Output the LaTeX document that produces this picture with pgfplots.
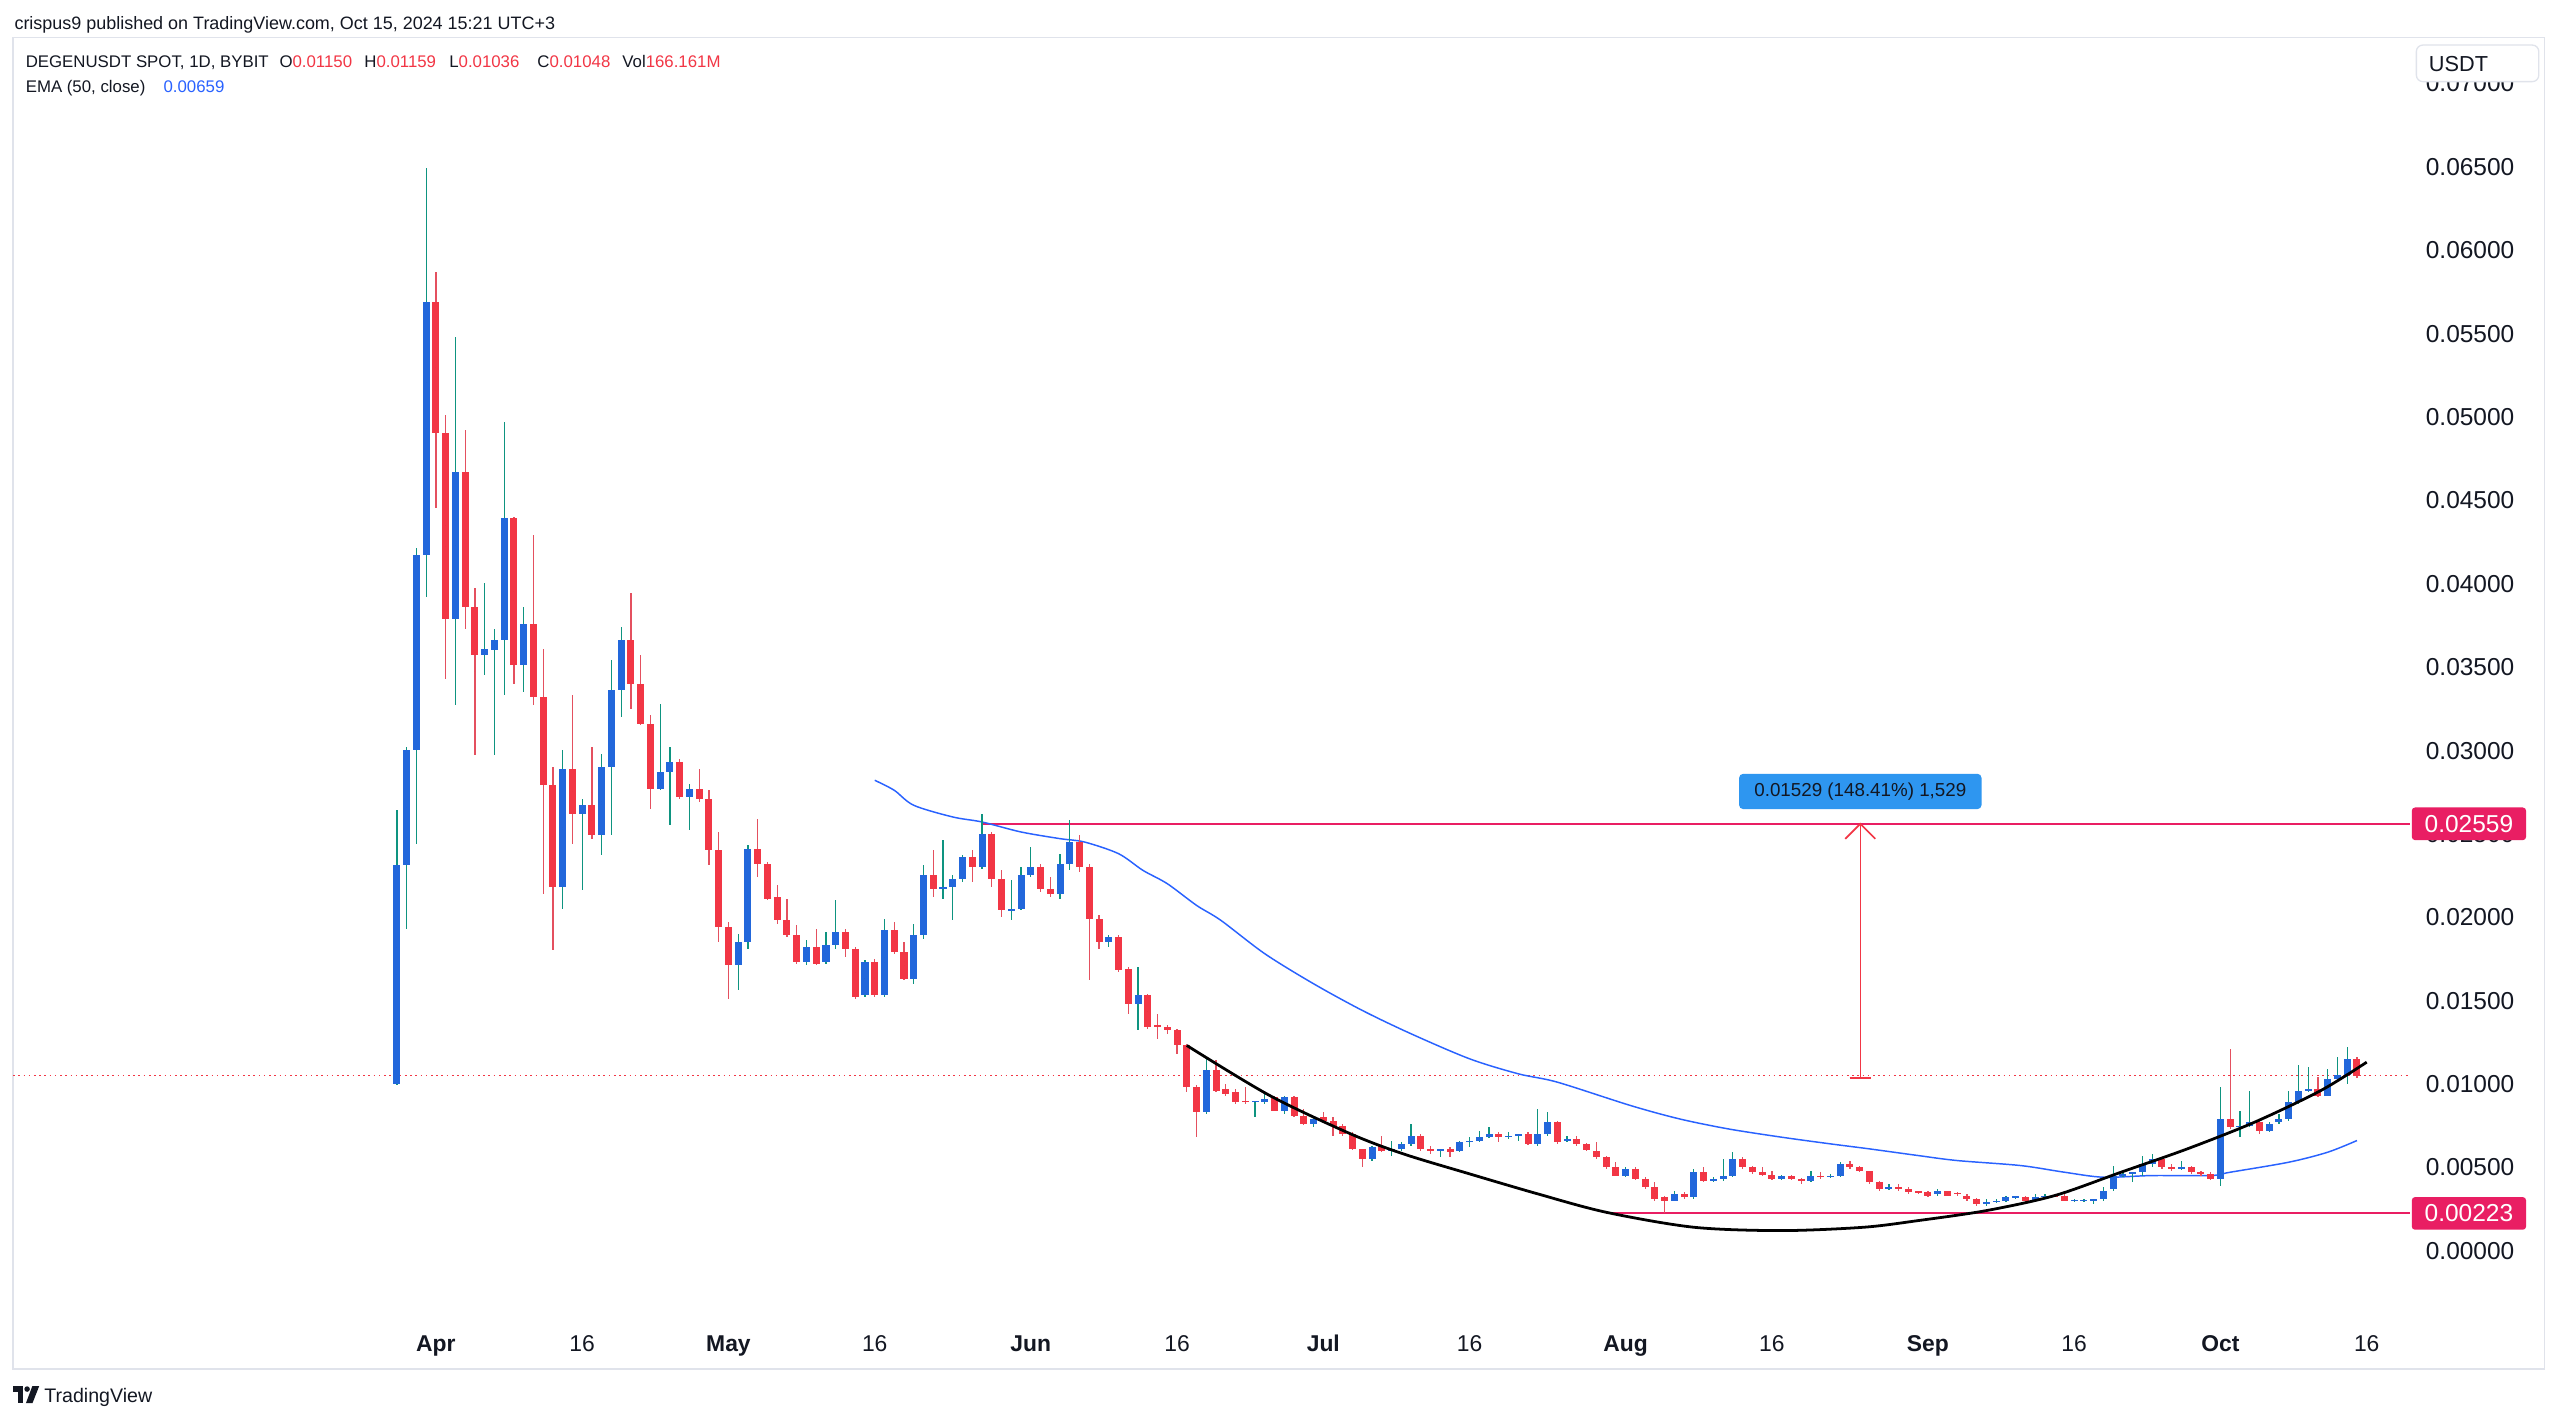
\documentclass[border=0pt]{standalone}
\usepackage{fontspec}
\setmainfont{Liberation Sans}
\usepackage{pgfplots}
\usepackage{pgfplotstable}
\pgfplotsset{compat=1.18}
\definecolor{tvtext}{HTML}{131722}
\definecolor{tvred}{HTML}{F23645}
\definecolor{tvredwick}{HTML}{E4505F}
\definecolor{tvblue}{HTML}{2267DB}
\definecolor{tvteal}{HTML}{0E9480}
\definecolor{tvpink}{HTML}{E91E63}
\definecolor{emablue}{HTML}{2962FF}
\definecolor{boxblue}{HTML}{2E96F0}
\definecolor{framegray}{HTML}{E0E3EB}
\pgfplotsset{candle/.style={only marks, mark=*, mark size=0pt, mark options={draw=none, fill=none}}}

\pgfplotstableread{
d o h l c
-4 0.0100 0.0264 0.0099 0.0231
-3 0.0231 0.0302 0.0193 0.0300
-2 0.0300 0.0421 0.0244 0.0417
-1 0.0417 0.0649 0.0392 0.0569
2 0.0379 0.0548 0.0327 0.0467
5 0.0357 0.0400 0.0345 0.0361
6 0.0360 0.0373 0.0297 0.0366
7 0.0366 0.0497 0.0333 0.0439
9 0.0351 0.0386 0.0335 0.0376
13 0.0218 0.0300 0.0205 0.0289
15 0.0262 0.0271 0.0216 0.0267
17 0.0249 0.0298 0.0237 0.0290
18 0.0290 0.0354 0.0249 0.0336
19 0.0336 0.0374 0.0320 0.0366
23 0.0277 0.0328 0.0276 0.0287
24 0.0287 0.0302 0.0255 0.0293
26 0.0272 0.0280 0.0252 0.0277
31 0.0171 0.0190 0.0156 0.0185
32 0.0185 0.0243 0.0181 0.0241
38 0.0173 0.0186 0.0171 0.0182
40 0.0173 0.0191 0.0172 0.0183
41 0.0183 0.0210 0.0181 0.0191
44 0.0153 0.0174 0.0152 0.0173
46 0.0153 0.0199 0.0152 0.0192
49 0.0163 0.0196 0.0160 0.0189
50 0.0189 0.0231 0.0187 0.0225
52 0.0217 0.0246 0.0211 0.0218
53 0.0218 0.0225 0.0198 0.0223
54 0.0223 0.0237 0.0221 0.0236
56 0.0230 0.0262 0.0229 0.0250
59 0.0204 0.0222 0.0198 0.0205
60 0.0205 0.0230 0.0204 0.0225
61 0.0225 0.0242 0.0224 0.0230
64 0.0214 0.0238 0.0211 0.0232
65 0.0232 0.0258 0.0228 0.0245
69 0.0185 0.0189 0.0182 0.0188
72 0.0148 0.0170 0.0132 0.0153
79 0.0083 0.0115 0.0082 0.0108
84 0.0089 0.0090 0.0080 0.0090
85 0.0089 0.0096 0.0088 0.0091
87 0.0084 0.0093 0.0082 0.0092
90 0.0076 0.0080 0.0074 0.0079
96 0.0055 0.0063 0.0054 0.0062
98 0.0060 0.0066 0.0057 0.0061
99 0.0061 0.0065 0.0060 0.0064
100 0.0064 0.0076 0.0063 0.0069
103 0.0060 0.0061 0.0056 0.0061
105 0.0060 0.0066 0.0059 0.0065
106 0.0065 0.0068 0.0062 0.0066
107 0.0066 0.0072 0.0065 0.0068
108 0.0068 0.0074 0.00675 0.0070
110 0.0068 0.0071 0.0067 0.0069
111 0.0069 0.0070 0.0066 0.0070
113 0.0064 0.0085 0.0063 0.0070
114 0.0070 0.0083 0.0069 0.0077
116 0.0066 0.0069 0.0065 0.0067
122 0.0045 0.0050 0.0044 0.0049
127 0.0030 0.0036 0.00295 0.0034
129 0.0032 0.0049 0.0031 0.0047
131 0.0042 0.0044 0.0041 0.0043
132 0.0043 0.0055 0.0042 0.0045
133 0.0045 0.0059 0.0044 0.0055
138 0.0043 0.00455 0.00425 0.0045
141 0.0042 0.0048 0.0041 0.0045
143 0.0044 0.0046 0.00435 0.0045
144 0.0045 0.0053 0.0044 0.0052
149 0.0037 0.0040 0.00365 0.0038
154 0.0034 0.0037 0.0033 0.0036
159 0.0028 0.0031 0.0027 0.0029
160 0.0029 0.0031 0.00285 0.0030
161 0.0030 0.0033 0.0029 0.0032
162 0.0032 0.0033 0.0031 0.00328
164 0.0030 0.0034 0.0029 0.0032
165 0.0032 0.0034 0.0031 0.0033
168 0.0030 0.0031 0.0029 0.00302
169 0.0030 0.0031 0.0029 0.00302
170 0.0030 0.0031 0.0028 0.0031
171 0.0031 0.0038 0.0030 0.0036
172 0.0037 0.0051 0.0036 0.0045
173 0.0045 0.0048 0.0044 0.0046
174 0.0046 0.0047 0.0041 0.0047
175 0.0047 0.0057 0.0045 0.0052
176 0.0052 0.0058 0.0050 0.0055
179 0.0049 0.0054 0.00485 0.0050
183 0.0043 0.0098 0.0039 0.0079
185 0.0074 0.0084 0.0068 0.0075
186 0.0075 0.0096 0.0074 0.0077
188 0.0072 0.0077 0.0071 0.0076
189 0.0077 0.0082 0.0076 0.0079
190 0.0079 0.0096 0.0078 0.0089
191 0.0089 0.0111 0.0088 0.0096
192 0.0096 0.0110 0.0095 0.0097
194 0.0093 0.0109 0.00925 0.0103
195 0.0103 0.0116 0.0101 0.0105
196 0.0105 0.0122 0.0100 0.0115
}\upc

\pgfplotstableread{
d o h l c
0 0.0569 0.0587 0.0445 0.0490
1 0.0490 0.0501 0.0343 0.0379
3 0.0467 0.0492 0.0373 0.0386
4 0.0386 0.0397 0.0297 0.0357
8 0.0439 0.0440 0.0340 0.0351
10 0.0376 0.0429 0.0327 0.0332
11 0.0332 0.0361 0.0214 0.0279
12 0.0279 0.0290 0.0180 0.0218
14 0.0289 0.0333 0.0244 0.0262
16 0.0267 0.0302 0.0247 0.0249
20 0.0366 0.0394 0.0325 0.0340
21 0.0340 0.0357 0.0315 0.0316
22 0.0316 0.0321 0.0265 0.0277
25 0.0293 0.0295 0.0271 0.0272
27 0.0277 0.0289 0.0269 0.0271
28 0.0271 0.0276 0.0231 0.0240
29 0.0240 0.0251 0.0185 0.0194
30 0.0194 0.0197 0.0151 0.0171
33 0.0241 0.0259 0.0224 0.0232
34 0.0232 0.0233 0.0210 0.0211
35 0.0212 0.0219 0.0196 0.0198
36 0.0198 0.0211 0.0188 0.0189
37 0.0189 0.0195 0.0172 0.0173
39 0.0182 0.0193 0.0171 0.0172
42 0.0191 0.0193 0.0176 0.0181
43 0.0181 0.0182 0.0151 0.0152
45 0.0173 0.0175 0.0152 0.0153
47 0.0192 0.0197 0.0178 0.0179
48 0.0179 0.0185 0.0162 0.0163
51 0.0225 0.0240 0.0212 0.0217
55 0.0236 0.0240 0.0221 0.0230
57 0.0250 0.0251 0.0218 0.0223
58 0.0223 0.0228 0.0200 0.0204
62 0.0230 0.0232 0.0215 0.0217
63 0.0217 0.0224 0.0212 0.0214
66 0.0245 0.0249 0.0227 0.0230
67 0.0230 0.0232 0.0162 0.0199
68 0.0199 0.0201 0.0181 0.0185
70 0.0188 0.0189 0.0167 0.0168
71 0.0169 0.0170 0.0142 0.0148
73 0.0153 0.0154 0.0133 0.0134
74 0.0135 0.0142 0.0127 0.0134
75 0.0134 0.0135 0.0130 0.0132
76 0.0132 0.0133 0.0118 0.0123
77 0.0123 0.0124 0.0095 0.0098
78 0.0098 0.0099 0.0068 0.0083
80 0.0108 0.0114 0.0095 0.0096
81 0.0097 0.0100 0.0093 0.0094
82 0.0095 0.0097 0.0088 0.0089
83 0.0090 0.0098 0.0088 0.0089
86 0.0092 0.0093 0.0084 0.0084
88 0.0092 0.0093 0.0080 0.0081
89 0.0081 0.0085 0.00755 0.0076
91 0.0080 0.0083 0.0077 0.0078
92 0.0078 0.0080 0.0069 0.0075
93 0.0075 0.0076 0.0069 0.0070
94 0.0070 0.0071 0.00605 0.0061
95 0.0061 0.0061 0.0050 0.0055
97 0.0063 0.0069 0.0059 0.0060
101 0.0069 0.0070 0.0060 0.0061
102 0.0061 0.0063 0.0058 0.0060
104 0.0061 0.0062 0.0056 0.0059
109 0.0070 0.0071 0.0065 0.0068
112 0.0070 0.0071 0.00635 0.0064
115 0.0077 0.00775 0.0064 0.0065
117 0.0067 0.0069 0.0063 0.0064
118 0.0064 0.00645 0.0060 0.00605
119 0.0060 0.0065 0.0055 0.0056
120 0.0056 0.0057 0.0049 0.0050
121 0.0050 0.0053 0.00445 0.0045
123 0.0049 0.0050 0.00425 0.0043
124 0.0043 0.0044 0.0037 0.0038
125 0.0038 0.0041 0.0030 0.0031
126 0.0032 0.0033 0.00223 0.0030
128 0.0034 0.0035 0.0031 0.0032
130 0.0047 0.0050 0.0041 0.0042
134 0.0055 0.0056 0.0049 0.0050
135 0.0050 0.0051 0.0046 0.0047
136 0.0047 0.0050 0.0045 0.00455
137 0.00455 0.0048 0.00425 0.0043
139 0.0045 0.00455 0.00425 0.0043
140 0.0043 0.00435 0.0040 0.0042
142 0.0045 0.0047 0.0043 0.0044
145 0.0052 0.0054 0.0049 0.0050
146 0.0050 0.0051 0.0047 0.00475
147 0.00475 0.0048 0.0040 0.0041
148 0.0041 0.0042 0.0036 0.0037
150 0.0038 0.0040 0.0036 0.0037
151 0.0037 0.0038 0.0034 0.0035
152 0.00355 0.0036 0.0034 0.0035
153 0.0035 0.00355 0.0032 0.0033
155 0.00355 0.0036 0.00325 0.0033
156 0.00345 0.0035 0.0033 0.0034
157 0.0033 0.0034 0.0030 0.0031
158 0.0031 0.00315 0.0027 0.0028
163 0.0032 0.0033 0.0029 0.0030
166 0.0033 0.0034 0.0032 0.00322
167 0.0033 0.0034 0.00298 0.0030
177 0.0055 0.0056 0.0049 0.0050
178 0.0050 0.0052 0.0048 0.0049
180 0.0050 0.0051 0.0046 0.0047
181 0.0047 0.0048 0.0045 0.0046
182 0.0046 0.0047 0.00425 0.0043
184 0.0079 0.0121 0.0073 0.0074
187 0.0077 0.0079 0.0070 0.0072
193 0.0097 0.0104 0.0092 0.0093
197 0.01150 0.01159 0.01036 0.01048
}\dnc

\begin{document}
\begin{tikzpicture}[x=1pt,y=1pt]
\fill[white] (0,0) rectangle (1568,870);
\draw[framegray, line width=0.8pt] (8,31.4) rectangle (1558.5,847.2);
\begin{axis}[
  at={(8pt,64pt)}, anchor=south west, scale only axis,
  width=1468pt, height=782pt,
  xmin=-43.364, xmax=202.42, ymin=-0.0039157, ymax=0.072636,
  clip=false,
  axis line style={draw=none}, tick style={draw=none}, major tick length=0pt,
  scaled y ticks=false, scaled x ticks=false,
  xtick={0,15,30,45,61,76,91,106,122,137,153,168,183,198},
  xticklabels={\textbf{Apr},16,\textbf{May},16,\textbf{Jun},16,\textbf{Jul},16,\textbf{Aug},16,\textbf{Sep},16,\textbf{Oct},16},
  ytick={0,0.005,0.01,0.015,0.02,0.025,0.03,0.035,0.04,0.045,0.05,0.055,0.06,0.065,0.07},
  yticklabels={0.00000,0.00500,0.01000,0.01500,0.02000,0.02500,0.03000,0.03500,0.04000,0.04500,0.05000,0.05500,0.06000,0.06500,0.07000},
  yticklabel pos=right,
  ticklabel style={text=tvtext},
  yticklabel style={font=\fontsize{15}{18}\selectfont, anchor=base west, inner sep=0pt, xshift=9.6pt, yshift=-5.37pt},
  xticklabel style={font=\fontsize{14}{17}\selectfont, anchor=base, inner sep=0pt, yshift=-21.5pt},
]
% current price dotted line
\addplot[tvred, line width=0.8pt, dash pattern=on 1pt off 2.2pt] coordinates {(-43.364,0.01048) (202.42,0.01048)};
% horizontal levels
\addplot[tvpink, line width=1.2pt] coordinates {(56,0.02559) (202.42,0.02559)};
\addplot[tvpink, line width=1.2pt] coordinates {(120,0.00223) (202.42,0.00223)};
% EMA 50
\addplot[emablue, line width=0.9pt, smooth, tension=0.5] coordinates {
(45,0.0282) (47,0.0276) (49,0.0267) (53,0.0260) (56,0.0257) (60,0.0251) (64,0.0247) (66.5,0.0245)
(70,0.0238) (72.5,0.0228) (75,0.0220) (78,0.0207) (80.5,0.0198) (85,0.0178) (90,0.0160) (95,0.0144)
(100,0.0130) (106,0.0115) (111,0.0106) (115,0.0101) (122.5,0.0087) (127.5,0.0079) (132.5,0.0073)
(138,0.0068) (143,0.0064) (147,0.0061) (152,0.0057) (156,0.0054) (162.5,0.0051) (167,0.0047)
(171,0.0044) (176,0.0045) (182,0.0045) (184,0.0047) (190,0.0053) (194,0.0059) (197,0.0066)};
% wicks
\addplot[candle, error bars/.cd, y dir=both, y explicit, error mark=none,
  error bar style={draw=tvteal, line width=0.75pt}]
  table[x=d, y expr={(\thisrow{h}+\thisrow{l})/2}, y error expr={(\thisrow{h}-\thisrow{l})/2}] {\upc};
\addplot[candle, error bars/.cd, y dir=both, y explicit, error mark=none,
  error bar style={draw=tvredwick, line width=0.75pt}]
  table[x=d, y expr={(\thisrow{h}+\thisrow{l})/2}, y error expr={(\thisrow{h}-\thisrow{l})/2}] {\dnc};
% bodies
\addplot[candle, error bars/.cd, y dir=both, y explicit, error mark=none,
  error bar style={draw=tvblue, line width=4.3pt}]
  table[x=d, y expr={(\thisrow{o}+\thisrow{c})/2}, y error expr={max(abs(\thisrow{o}-\thisrow{c})/2,0.00005)}] {\upc};
\addplot[candle, error bars/.cd, y dir=both, y explicit, error mark=none,
  error bar style={draw=tvred, line width=4.3pt}]
  table[x=d, y expr={(\thisrow{o}+\thisrow{c})/2}, y error expr={max(abs(\thisrow{o}-\thisrow{c})/2,0.00005)}] {\dnc};
% cup curve
\addplot[black, line width=1.7pt, smooth, tension=0.5] coordinates {
(77,0.0123) (85.5,0.0093) (93.8,0.0070) (99.2,0.0058) (106,0.0046) (113,0.0034) (120,0.0023)
(129,0.0014) (138,0.0012) (146.4,0.0014) (152,0.0018) (159,0.0024) (166,0.0033) (172.8,0.0047)
(179.6,0.0061) (186.5,0.0077) (193.3,0.0096) (198,0.0113)};
% measurement arrow
\draw[tvred, line width=1pt] (axis cs:146.07,0.01035) -- (axis cs:146.07,0.02559);
\draw[tvred, line width=1pt] (axis cs:144.53,0.02469) -- (axis cs:146.07,0.02559) -- (axis cs:147.61,0.02469);
\draw[tvred, line width=1pt] (axis cs:144.98,0.01035) -- (axis cs:147.16,0.01035);
\node[fill=boxblue, rounded corners=2.5pt, minimum width=148.5pt, minimum height=21.6pt, inner sep=0pt,
  text=tvtext, font=\fontsize{11.5}{13}\selectfont] at (axis cs:146.07,0.02753) {0.01529 (148.41\%) 1,529};
\coordinate (r1) at (axis cs:202.42,0.02559);
\coordinate (r2) at (axis cs:202.42,0.00223);
\end{axis}
% price labels on axis
\node[fill=tvpink, text=white, rounded corners=2pt, minimum width=70pt, minimum height=20pt, inner sep=0pt,
  anchor=west, font=\fontsize{15}{18}\selectfont] at ([xshift=1pt]r1) {0.02559};
\node[fill=tvpink, text=white, rounded corners=2pt, minimum width=70pt, minimum height=20pt, inner sep=0pt,
  anchor=west, font=\fontsize{15}{18}\selectfont] at ([xshift=1pt]r2) {0.00223};
% USDT box
\draw[framegray, fill=white, line width=0.8pt, rounded corners=4pt] (1480,820) rectangle (1555,842.4);
\node[anchor=base west, inner sep=0pt, text=tvtext, font=\fontsize{13.3}{15}\selectfont] at (1487.5,826.4) {USDT};
% header
\node[anchor=base west, inner sep=0pt, text=tvtext, font=\fontsize{11}{13}\selectfont] at (8.7,851.8)
  {crispus9 published on TradingView.com, Oct 15, 2024 15:21 UTC+3};
\begin{scope}[every node/.style={anchor=base west, inner sep=0pt, text=tvtext, font=\fontsize{10.3}{12}\selectfont}]
\node at (15.6,828.4) {DEGENUSDT SPOT, 1D, BYBIT};
\node at (171,828.4) {O\textcolor{tvred}{0.01150}};
\node at (223,828.4) {H\textcolor{tvred}{0.01159}};
\node at (275,828.4) {L\textcolor{tvred}{0.01036}};
\node at (329,828.4) {C\textcolor{tvred}{0.01048}};
\node at (381,828.4) {Vol\textcolor{tvred}{166.161M}};
\node at (15.6,813.5) {EMA (50, close)};
\node at (100,813.5) {\textcolor{emablue}{0.00659}};
\end{scope}
% TradingView logo
\fill[tvtext] (8,21) rectangle (14.2,17.6);
\fill[tvtext] (11,17.6) rectangle (14.2,10.6);
\fill[tvtext] (16.6,19.2) circle (1.7pt);
\fill[tvtext] (19.8,21) -- (24,21) -- (19.9,10.6) -- (15.9,10.6) -- cycle;
\node[anchor=base west, inner sep=0pt, text=tvtext, font=\fontsize{12}{14}\selectfont] at (27,11.2) {TradingView};
\pgfresetboundingbox
\useasboundingbox (0,0) rectangle (1568,870);
\end{tikzpicture}
\end{document}
